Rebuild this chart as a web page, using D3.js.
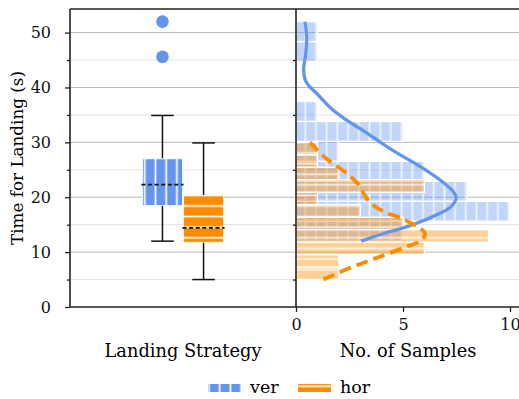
<!DOCTYPE html>
<html>
<head>
<meta charset="utf-8">
<script src="https://cdn.jsdelivr.net/npm/d3@7"></script>
<style>
  body { margin: 0; background: #fff; }
  svg { display: block; font-family: "DejaVu Serif", serif; }
</style>
</head>
<body>
<svg id="chart" width="519" height="399"></svg>
<script>
// data
var strategies = ["ver", "hor"];
var colors = ["#6495ED", "#FF8C00"];

var yMajorTicks = [0, 10, 20, 30, 40, 50];
var yMinorTicks = [5, 15, 25, 35, 45];
var countTicks = [0, 5, 10];

// box plot stats, one entry per strategy
var boxQ1 = [18.5, 11.8];
var boxMedian = [22.3, 14.4];
var boxQ3 = [27.0, 20.3];
var whiskerLow = [12.0, 5.0];
var whiskerHigh = [34.9, 29.9];
var verOutliers = [52.0, 45.6];

// histograms (11 bins each)
var verBinEdges = [12, 15.64, 19.27, 22.91, 26.55, 30.18, 33.82, 37.45, 41.09, 44.73, 48.36, 52];
var verCounts = [5, 10, 8, 6, 2, 5, 1, 0, 0, 1, 1];
var horBinEdges = [5, 7.27, 9.55, 11.82, 14.09, 16.36, 18.64, 20.91, 23.18, 25.45, 27.73, 30];
var horCounts = [2, 2, 6, 9, 5, 3, 1, 6, 2, 1, 1];

// kde curves (time, scaled count)
var verKdeTime = [12.0, 13.4, 14.6, 16.5, 18.3, 19.9, 21.0, 23.1, 25.6, 28.6, 31.6, 34.1, 36.0, 37.6, 39.0, 40.2, 41.5, 43.5, 46.0, 49.0, 52.0];
var verKdeCount = [3.05, 4.1, 5.15, 6.4, 7.25, 7.48, 7.35, 6.75, 5.8, 4.5, 3.35, 2.35, 1.7, 1.28, 0.95, 0.62, 0.42, 0.36, 0.45, 0.5, 0.42];
var horKdeTime = [5.0, 7.1, 9.0, 11.0, 12.2, 13.4, 14.5, 15.3, 16.2, 17.4, 18.9, 20.4, 22.2, 24.2, 26.8, 28.2, 30.0];
var horKdeCount = [1.28, 2.5, 3.8, 5.17, 5.87, 6.03, 5.75, 5.35, 4.9, 4.1, 3.5, 3.2, 2.95, 2.42, 1.5, 1.1, 0.65];

var svg = d3.select("#chart");
var W = 519;

var y = d3.scaleLinear().domain([0, 54.3]).range([307, 9]);
var xl = d3.scaleLinear().domain([-1.1, 1.1]).range([70, 296]);
var xr = d3.scaleLinear().domain([0, 10]).range([296, 510]);

// hatch patterns (white lines)
var defs = svg.append("defs");
var hv = defs.append("pattern").attr("id", "hatchV")
	.attr("patternUnits", "userSpaceOnUse")
	.attr("x", 305.3 - 5.35).attr("y", 0)
	.attr("width", 10.7).attr("height", 10.7);
hv.append("rect").attr("x", 4.5).attr("y", 0).attr("width", 1.7).attr("height", 10.7).attr("fill", "#fff");
var hh = defs.append("pattern").attr("id", "hatchH")
	.attr("patternUnits", "userSpaceOnUse")
	.attr("x", 0).attr("y", 206 - 5.3)
	.attr("width", 10.6).attr("height", 10.6);
hh.append("rect").attr("x", 0).attr("y", 4.45).attr("width", 10.6).attr("height", 1.7).attr("fill", "#fff");
var hatches = ["url(#hatchV)", "url(#hatchH)"];

// grid lines across both panels
var grid = svg.append("g");
grid.selectAll("line.minor").data(yMinorTicks).enter().append("line")
	.attr("x1", 70).attr("x2", W)
	.attr("y1", function(d){ return y(d); }).attr("y2", function(d){ return y(d); })
	.style("stroke", "#e3e3e3").style("stroke-width", 1);
grid.selectAll("line.major").data(yMajorTicks.slice(1)).enter().append("line")
	.attr("x1", 70).attr("x2", W)
	.attr("y1", function(d){ return y(d); }).attr("y2", function(d){ return y(d); })
	.style("stroke", "#b8b8b8").style("stroke-width", 1);

// histograms
function drawHist(edges, counts, i){
	var bins = counts.map(function(c, k){ return {lo: edges[k], hi: edges[k + 1], n: c}; })
		.filter(function(b){ return b.n > 0; });
	var g = svg.append("g");
	g.selectAll("rect.fill").data(bins).enter().append("rect")
		.attr("x", xr(0))
		.attr("y", function(d){ return y(d.hi); })
		.attr("width", function(d){ return xr(d.n) - xr(0); })
		.attr("height", function(d){ return y(d.lo) - y(d.hi); })
		.style("fill", colors[i]).style("fill-opacity", 0.4)
		.style("stroke", "#fff").style("stroke-width", 1.4);
	g.selectAll("rect.hatch").data(bins).enter().append("rect")
		.attr("x", xr(0))
		.attr("y", function(d){ return y(d.hi); })
		.attr("width", function(d){ return xr(d.n) - xr(0); })
		.attr("height", function(d){ return y(d.lo) - y(d.hi); })
		.style("fill", hatches[i]).style("opacity", 0.75);
}
drawHist(verBinEdges, verCounts, 0);
drawHist(horBinEdges, horCounts, 1);

// kde lines
var kdeLine = d3.line()
	.x(function(d){ return xr(d[1]); })
	.y(function(d){ return y(d[0]); })
	.curve(d3.curveCatmullRom.alpha(0.5));
svg.append("path")
	.datum(d3.zip(verKdeTime, verKdeCount))
	.attr("d", kdeLine)
	.style("fill", "none").style("stroke", colors[0]).style("stroke-width", 3.3);
svg.append("path")
	.datum(d3.zip(horKdeTime, horKdeCount))
	.attr("d", kdeLine)
	.style("fill", "none").style("stroke", colors[1]).style("stroke-width", 3.8)
	.style("stroke-dasharray", "12,6");

// box plots
var offsets = [-0.2, 0.2];
var halfBox = 0.195, halfCap = 0.11;
strategies.forEach(function(s, i){
	var g = svg.append("g");
	var cx = xl(offsets[i]);
	g.append("line").attr("x1", cx).attr("x2", cx)
		.attr("y1", y(whiskerLow[i])).attr("y2", y(boxQ1[i]))
		.style("stroke", "#111").style("stroke-width", 1.5);
	g.append("line").attr("x1", cx).attr("x2", cx)
		.attr("y1", y(boxQ3[i])).attr("y2", y(whiskerHigh[i]))
		.style("stroke", "#111").style("stroke-width", 1.5);
	[whiskerLow[i], whiskerHigh[i]].forEach(function(v){
		g.append("line")
			.attr("x1", xl(offsets[i] - halfCap)).attr("x2", xl(offsets[i] + halfCap))
			.attr("y1", y(v)).attr("y2", y(v))
			.style("stroke", "#111").style("stroke-width", 1.5);
	});
	var bx = xl(offsets[i] - halfBox), bw = xl(offsets[i] + halfBox) - bx;
	g.append("rect").attr("x", bx).attr("y", y(boxQ3[i]))
		.attr("width", bw).attr("height", y(boxQ1[i]) - y(boxQ3[i]))
		.style("fill", colors[i]).style("stroke", "#fff").style("stroke-width", 0.8);
	g.append("rect").attr("x", bx).attr("y", y(boxQ3[i]))
		.attr("width", bw).attr("height", y(boxQ1[i]) - y(boxQ3[i]))
		.style("fill", hatches[i]);
	g.append("line")
		.attr("x1", bx - 1).attr("x2", bx + bw + 1)
		.attr("y1", y(boxMedian[i])).attr("y2", y(boxMedian[i]))
		.style("stroke", "#111").style("stroke-width", 1.8).style("stroke-dasharray", "4,2.6");
});
svg.selectAll("circle.outlier").data(verOutliers).enter().append("circle")
	.attr("cx", xl(offsets[0])).attr("cy", function(d){ return y(d); })
	.attr("r", 6.3).style("fill", colors[0]);

// spines
var spine = svg.append("g").style("stroke", "#222").style("stroke-width", 1.6).style("fill", "none");
spine.append("line").attr("x1", 70).attr("x2", W).attr("y1", 9).attr("y2", 9);
spine.append("line").attr("x1", 70).attr("x2", W).attr("y1", 307).attr("y2", 307);
spine.append("line").attr("x1", 70).attr("x2", 70).attr("y1", 9).attr("y2", 307);
spine.append("line").attr("x1", 296).attr("x2", 296).attr("y1", 9).attr("y2", 307);

// left axis ticks and labels
var yAxis = d3.axisLeft(y).tickValues(yMajorTicks).tickSize(5).tickPadding(14);
svg.append("g").attr("transform", "translate(70,0)").call(yAxis);
var yMinor = d3.axisLeft(y).tickValues(yMinorTicks).tickSize(3).tickFormat("");
svg.append("g").attr("transform", "translate(70,0)").call(yMinor);
svg.append("g").attr("transform", "translate(296,0)").call(yMinor);

// right panel count axis (last label is cut by the figure edge, as in the original)
var xAxis = d3.axisBottom(xr).tickValues(countTicks).tickSize(5).tickPadding(7);
svg.append("g").attr("transform", "translate(0,307)").call(xAxis);

svg.selectAll(".domain").remove();
svg.selectAll(".tick line").style("stroke", "#222").style("stroke-width", 1.3);
svg.selectAll(".tick text").style("font-family", "DejaVu Serif").style("font-size", "16px").style("fill", "#111");

// axis titles
svg.append("text").attr("transform", "translate(23,158) rotate(-90)")
	.attr("text-anchor", "middle").style("font-size", "16.8px").text("Time for Landing (s)");
svg.append("text").attr("x", 183).attr("y", 357)
	.attr("text-anchor", "middle").style("font-size", "17.8px").text("Landing Strategy");
svg.append("text").attr("x", 408).attr("y", 357)
	.attr("text-anchor", "middle").style("font-size", "17.8px").text("No. of Samples");

// legend
var legX = [208, 298], legText = [250, 340];
strategies.forEach(function(s, i){
	svg.append("rect").attr("x", legX[i]).attr("y", 384).attr("width", 33).attr("height", 8)
		.style("fill", colors[i]);
	svg.append("rect").attr("x", legX[i]).attr("y", 384).attr("width", 33).attr("height", 8)
		.style("fill", hatches[i]);
	svg.append("text").attr("x", legText[i]).attr("y", 393)
		.style("font-size", "17.5px").text(s);
});
</script>
</body>
</html>
